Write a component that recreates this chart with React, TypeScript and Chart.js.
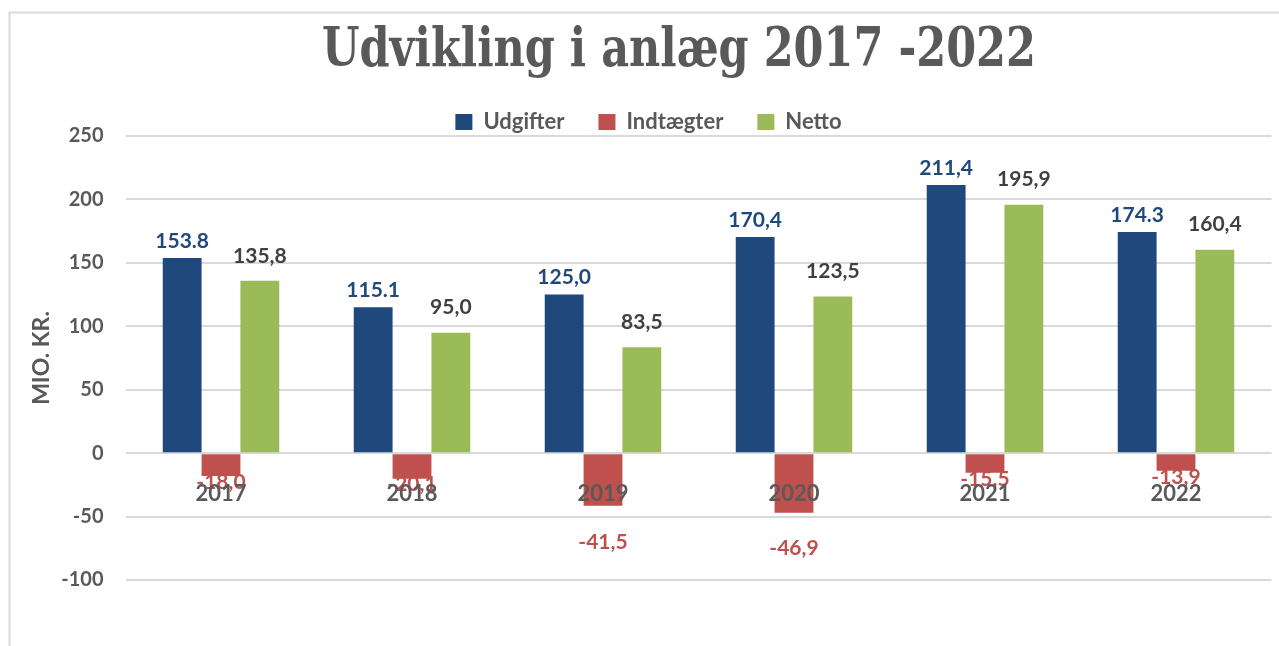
import React, { useEffect, useRef } from "react";
import { Chart, registerables } from "chart.js";

Chart.register(...registerables);

const TITLE = "Udvikling i anlæg 2017 -2022";
const Y_TITLE = "MIO. KR.";
const categories = ["2017", "2018", "2019", "2020", "2021", "2022"];
const udgifter = [153.8, 115.1, 125.0, 170.4, 211.4, 174.3];
const indtaegter = [-18.0, -20.1, -41.5, -46.9, -15.5, -13.9];
const netto = [135.8, 95.0, 83.5, 123.5, 195.9, 160.4];
const udgifterLabels = ["153.8", "115.1", "125,0", "170,4", "211,4", "174.3"];
const indtaegterLabels = ["-18,0", "-20,1", "-41,5", "-46,9", "-15,5", "-13,9"];
const nettoLabels = ["135,8", "95,0", "83,5", "123,5", "195,9", "160,4"];
const seriesNames = ["Udgifter", "Indtægter", "Netto"];
const yMin = -100;
const yMax = 250;
const yStep = 50;

const BLUE = "#1F497D";
const RED = "#C0504D";
const GREEN = "#9BBB59";
const GRAY = "#595959";
const FONT = "Lato";

const framePlugin = {
  id: "frame",
  beforeDraw(chart: any) {
    const { ctx, width, height } = chart;
    ctx.save();
    ctx.fillStyle = "#ffffff";
    ctx.fillRect(0, 0, width, height);
    ctx.strokeStyle = "#d9d9d9";
    ctx.lineWidth = 2;
    ctx.beginPath();
    ctx.moveTo(9.5, height);
    ctx.lineTo(9.5, 12.5);
    ctx.lineTo(width, 12.5);
    ctx.stroke();
    // title
    ctx.font = "bold 54px 'DejaVu Serif Condensed'";
    ctx.fillStyle = GRAY;
    ctx.textAlign = "center";
    ctx.textBaseline = "alphabetic";
    const w = ctx.measureText(TITLE).width;
    const sx = 714 / w;
    ctx.translate(679, 66);
    ctx.scale(sx, 1);
    ctx.fillText(TITLE, 0, 0);
    ctx.restore();
  },
};

const labelPlugin = {
  id: "barLabels",
  afterDatasetsDraw(chart: any) {
    const { ctx } = chart;
    const labelSets = [udgifterLabels, indtaegterLabels, nettoLabels];
    const colors = [BLUE, RED, "#404040"];
    const aboveGap = [17, 20, 25];
    const zeroY = chart.scales.y.getPixelForValue(0);
    ctx.save();
    ctx.font = `bold 21px ${FONT}`;
    ctx.textAlign = "center";
    ctx.textBaseline = "middle";
    chart.data.datasets.forEach((ds: any, di: number) => {
      const meta = chart.getDatasetMeta(di);
      meta.data.forEach((bar: any, i: number) => {
        const v = ds.data[i];
        ctx.fillStyle = colors[di];
        let y;
        if (v >= 0) {
          y = bar.y - aboveGap[di];
        } else {
          const depth = bar.y - zeroY;
          y = bar.y + (depth > 40 ? 36 : 6);
        }
        ctx.fillText(labelSets[di][i], bar.x, y);
      });
    });
    ctx.restore();
  },
};

export default function App() {
  const ref = useRef<HTMLCanvasElement>(null);
  useEffect(() => {
    if (!ref.current) return;
    const chart = new Chart(ref.current, {
      type: "bar",
      data: {
        labels: categories,
        datasets: [
          { label: seriesNames[0], data: udgifter, backgroundColor: BLUE },
          { label: seriesNames[1], data: indtaegter, backgroundColor: RED },
          { label: seriesNames[2], data: netto, backgroundColor: GREEN },
        ],
      },
      options: {
        responsive: false,
        animation: false,
        devicePixelRatio: 1,
        layout: { padding: { top: 77, left: 25.5, right: 7.5, bottom: 66 } },
        datasets: { bar: { categoryPercentage: 0.61, barPercentage: 1.0 } },
        plugins: {
          title: { display: false },
          tooltip: { enabled: false },
          legend: {
            position: "top",
            maxHeight: 59,
            labels: {
              boxWidth: 17,
              boxHeight: 16,
              padding: 34,
              color: GRAY,
              font: { family: FONT, size: 22, weight: "bold" },
            },
          },
        },
        scales: {
          x: {
            position: { y: 0 } as any,
            z: 1,
            grid: { display: false },
            border: { display: false },
            ticks: {
              z: 1,
              color: GRAY,
              padding: 20,
              font: { family: FONT, size: 22, weight: "bold" },
            },
          },
          y: {
            min: yMin,
            max: yMax,
            afterFit(scale: any) {
              scale.width = 100;
            },
            ticks: {
              stepSize: yStep,
              color: GRAY,
              padding: 22,
              font: { family: FONT, size: 20, weight: "bold" },
            },
            grid: { color: "#d9d9d9", lineWidth: 2, drawTicks: false },
            border: { display: false },
            title: {
              display: true,
              text: Y_TITLE,
              color: GRAY,
              padding: { top: 2, bottom: 0 },
              font: { family: FONT, size: 23, weight: "bold" },
            },
          },
        },
      },
      plugins: [framePlugin, labelPlugin],
    });
    return () => chart.destroy();
  }, []);
  return (
    <div style={{ position: "fixed", left: 0, top: 0, width: 1279, height: 646 }}>
      <canvas ref={ref} width={1279} height={646} />
    </div>
  );
}
